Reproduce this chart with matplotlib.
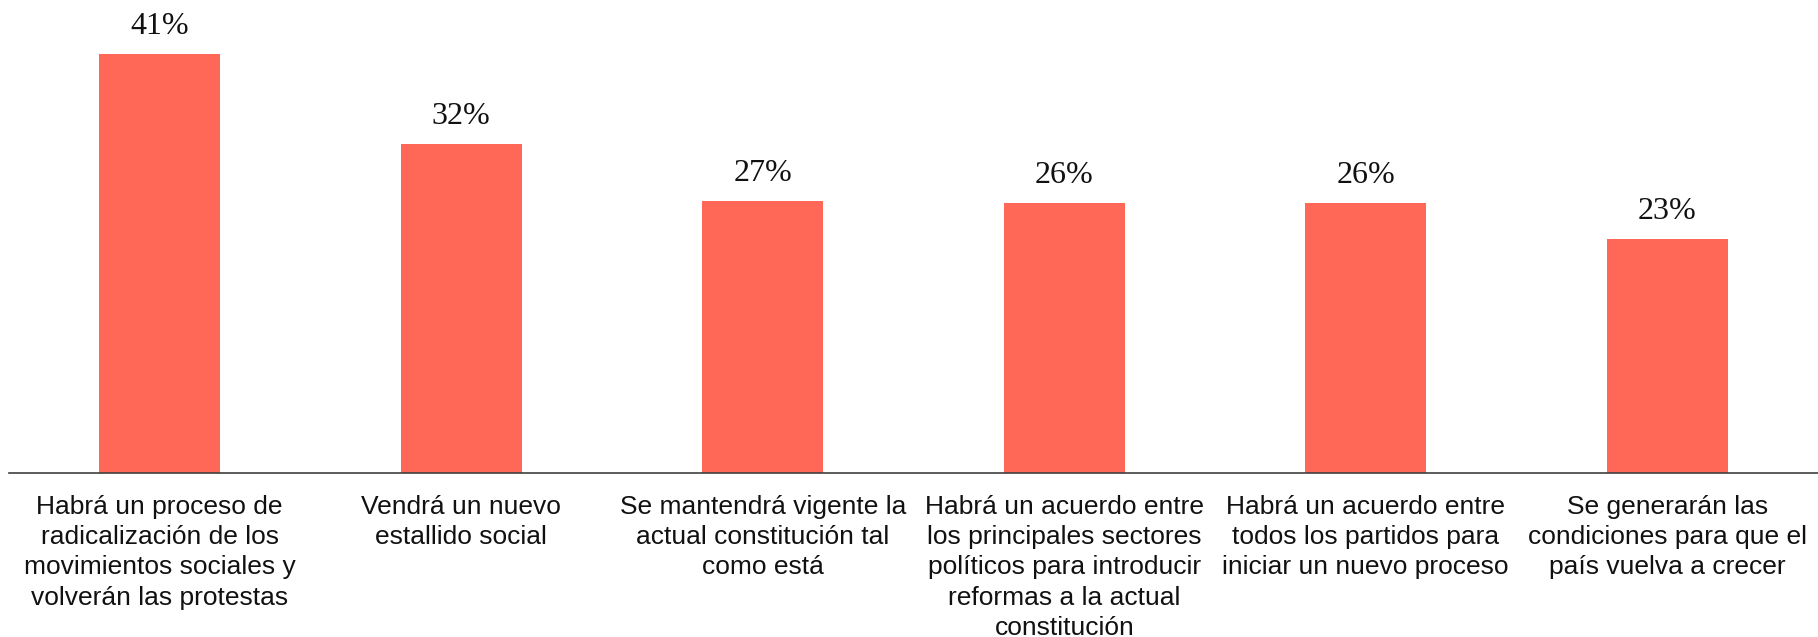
import matplotlib
matplotlib.use("Agg")
import matplotlib.pyplot as plt

categories = [
    "Habrá un proceso de\nradicalización de los\nmovimientos sociales y\nvolverán las protestas",
    "Vendrá un nuevo\nestallido social",
    "Se mantendrá vigente la\nactual constitución tal\ncomo está",
    "Habrá un acuerdo entre\nlos principales sectores\npolíticos para introducir\nreformas a la actual\nconstitución",
    "Habrá un acuerdo entre\ntodos los partidos para\niniciar un nuevo proceso",
    "Se generarán las\ncondiciones para que el\npaís vuelva a crecer",
]
values = [41, 32.2, 26.6, 26.4, 26.4, 22.9]
value_labels = ["41%", "32%", "27%", "26%", "26%", "23%"]

BAR = "#FF6757"

fig = plt.figure(figsize=(18.18, 6.37), dpi=100)
ax = fig.add_axes([9 / 1818, 164.5 / 637, 1 - 9 / 1818, 1 - 164.5 / 637])
x = range(len(values))
bars = ax.bar(x, values, width=0.4, color=BAR)
for b, lab in zip(bars, value_labels):
    ax.annotate(lab, (b.get_x() + b.get_width() / 2, b.get_height()),
                xytext=(0, 14), textcoords="offset points", ha="center", va="baseline",
                fontsize=23, family=["Liberation Serif", "DejaVu Serif"], color="#111111")
ax.set_xlim(-0.5, len(values) - 0.5)
ax.set_ylim(0, 46.25)
ax.set_yticks([])
ax.set_xticks(list(x))
ax.set_xticklabels(categories, fontsize=19, family=["Liberation Sans", "DejaVu Sans"],
                   linespacing=1.33, color="#111111")
ax.tick_params(axis="x", length=0, pad=16)
for s in ("top", "right", "left"):
    ax.spines[s].set_visible(False)
ax.spines["bottom"].set_color("#404040")
ax.spines["bottom"].set_linewidth(1.2)
fig.savefig("out.png", dpi=100)
